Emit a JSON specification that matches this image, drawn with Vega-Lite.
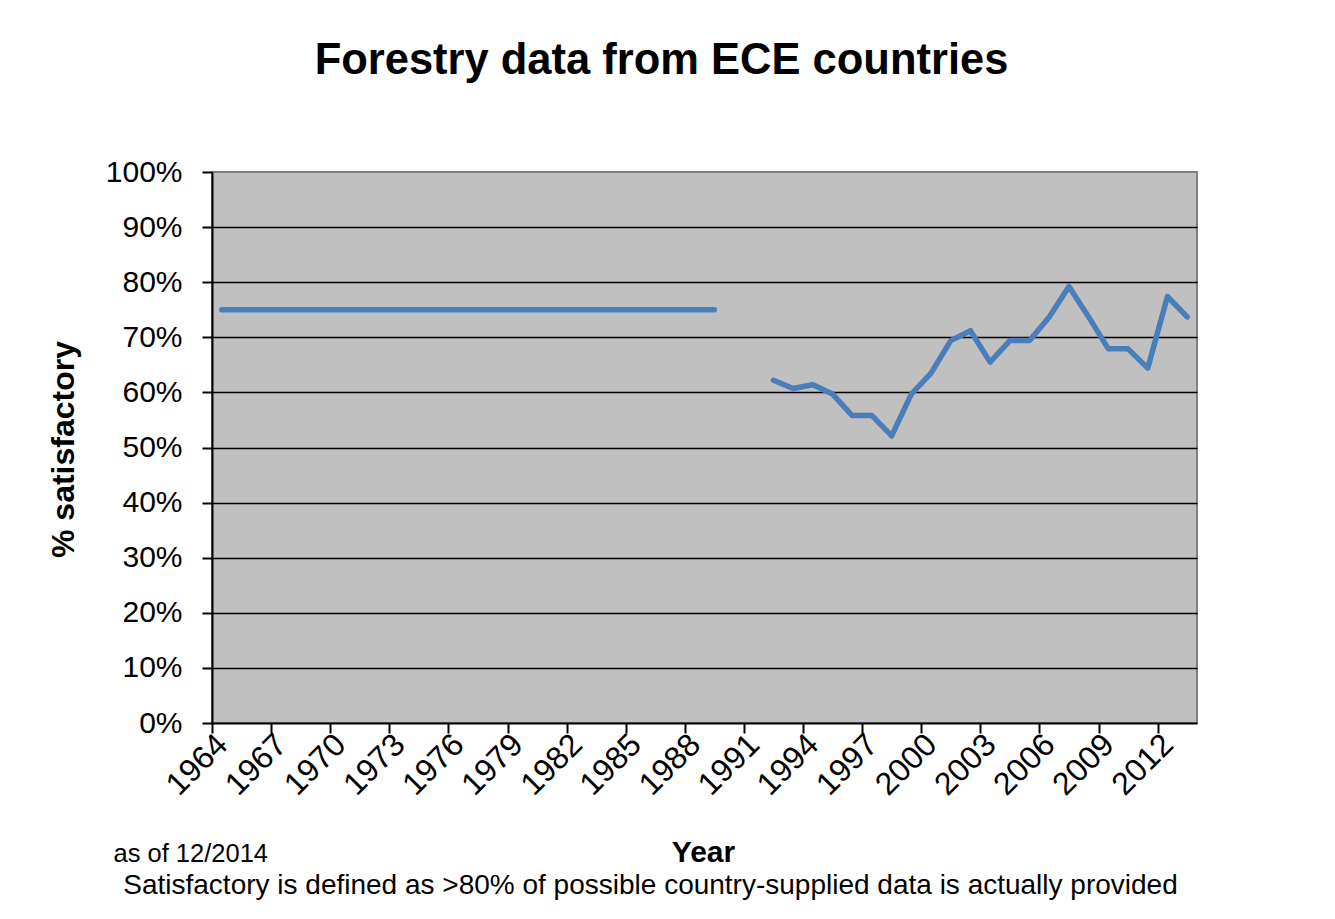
{
  "$schema": "https://vega.github.io/schema/vega-lite/v6.json",
  "autosize": {"type": "none"},
  "padding": {"left": 212, "top": 172, "right": 138, "bottom": 196},
  "width": 985,
  "height": 551,
  "background": "white",
  "config": {
    "font": "Liberation Sans",
    "view": {"fill": "#c0c0c0", "stroke": "#808080", "strokeWidth": 2}
  },
  "title": {
    "text": "Forestry data from ECE countries",
    "fontSize": 43.5,
    "fontWeight": "bold",
    "color": "black",
    "anchor": "middle",
    "dx": -43,
    "offset": 40,
    "baseline": "alphabetic"
  },
  "data": {
    "values": [
      {"year": 1964, "value": 0.75, "period": 1},
      {"year": 1965, "value": 0.75, "period": 1},
      {"year": 1966, "value": 0.75, "period": 1},
      {"year": 1967, "value": 0.75, "period": 1},
      {"year": 1968, "value": 0.75, "period": 1},
      {"year": 1969, "value": 0.75, "period": 1},
      {"year": 1970, "value": 0.75, "period": 1},
      {"year": 1971, "value": 0.75, "period": 1},
      {"year": 1972, "value": 0.75, "period": 1},
      {"year": 1973, "value": 0.75, "period": 1},
      {"year": 1974, "value": 0.75, "period": 1},
      {"year": 1975, "value": 0.75, "period": 1},
      {"year": 1976, "value": 0.75, "period": 1},
      {"year": 1977, "value": 0.75, "period": 1},
      {"year": 1978, "value": 0.75, "period": 1},
      {"year": 1979, "value": 0.75, "period": 1},
      {"year": 1980, "value": 0.75, "period": 1},
      {"year": 1981, "value": 0.75, "period": 1},
      {"year": 1982, "value": 0.75, "period": 1},
      {"year": 1983, "value": 0.75, "period": 1},
      {"year": 1984, "value": 0.75, "period": 1},
      {"year": 1985, "value": 0.75, "period": 1},
      {"year": 1986, "value": 0.75, "period": 1},
      {"year": 1987, "value": 0.75, "period": 1},
      {"year": 1988, "value": 0.75, "period": 1},
      {"year": 1989, "value": 0.75, "period": 1},
      {"year": 1992, "value": 0.622, "period": 2},
      {"year": 1993, "value": 0.607, "period": 2},
      {"year": 1994, "value": 0.614, "period": 2},
      {"year": 1995, "value": 0.597, "period": 2},
      {"year": 1996, "value": 0.558, "period": 2},
      {"year": 1997, "value": 0.558, "period": 2},
      {"year": 1998, "value": 0.521, "period": 2},
      {"year": 1999, "value": 0.597, "period": 2},
      {"year": 2000, "value": 0.635, "period": 2},
      {"year": 2001, "value": 0.694, "period": 2},
      {"year": 2002, "value": 0.712, "period": 2},
      {"year": 2003, "value": 0.655, "period": 2},
      {"year": 2004, "value": 0.694, "period": 2},
      {"year": 2005, "value": 0.694, "period": 2},
      {"year": 2006, "value": 0.737, "period": 2},
      {"year": 2007, "value": 0.792, "period": 2},
      {"year": 2008, "value": 0.737, "period": 2},
      {"year": 2009, "value": 0.679, "period": 2},
      {"year": 2010, "value": 0.679, "period": 2},
      {"year": 2011, "value": 0.644, "period": 2},
      {"year": 2012, "value": 0.774, "period": 2},
      {"year": 2013, "value": 0.737, "period": 2}
    ]
  },
  "resolve": {"axis": {"x": "independent", "y": "independent"}},
  "layer": [
    {
      "transform": [{"filter": "datum.period == 1"}],
      "mark": {"type": "line", "color": "#4a7ebb", "strokeWidth": 5.5, "strokeCap": "round", "strokeJoin": "round"},
      "encoding": {
        "x": {
          "field": "year",
          "type": "quantitative",
          "scale": {"domain": [1963.5, 2013.5], "nice": false, "zero": false},
          "axis": {
            "values": [1964, 1967, 1970, 1973, 1976, 1979, 1982, 1985, 1988, 1991, 1994, 1997, 2000, 2003, 2006, 2009, 2012],
            "format": "d",
            "grid": false,
            "ticks": false,
            "domain": true,
            "domainColor": "black",
            "domainWidth": 2,
            "labelAngle": -45,
            "labelAlign": "right",
            "labelBaseline": "middle",
            "labelPadding": 16,
            "labelFontSize": 32,
            "labelColor": "black",
            "labelOverlap": false,
            "labelFlush": false,
            "title": "Year",
            "titleFontSize": 30,
            "titleFontWeight": "bold",
            "titleColor": "black",
            "titleX": 491,
            "titleY": 138,
            "titleAlign": "center",
            "titleBaseline": "alphabetic"
          }
        },
        "y": {
          "field": "value",
          "type": "quantitative",
          "scale": {"domain": [0, 1], "nice": false},
          "axis": {
            "values": [0, 0.1, 0.2, 0.3, 0.4, 0.5, 0.6, 0.7, 0.8, 0.9, 1.0],
            "format": ".0%",
            "grid": false,
            "domain": true,
            "domainColor": "black",
            "domainWidth": 2,
            "ticks": true,
            "tickColor": "black",
            "tickWidth": 2,
            "tickSize": 10,
            "labelPadding": 20,
            "labelFontSize": 30,
            "labelColor": "black",
            "labelFlush": false,
            "labelOverlap": false,
            "title": "% satisfactory",
            "titleFontSize": 32,
            "titleFontWeight": "bold",
            "titleColor": "black",
            "titleAngle": -90,
            "titleX": -139,
            "titleY": 277,
            "titleAlign": "center",
            "titleBaseline": "alphabetic"
          }
        }
      }
    },
    {
      "transform": [{"filter": "datum.period == 2"}],
      "mark": {"type": "line", "color": "#4a7ebb", "strokeWidth": 5.5, "strokeCap": "round", "strokeJoin": "round"},
      "encoding": {
        "x": {
          "field": "year",
          "type": "quantitative",
          "scale": {"domain": [1963.5, 2013.5], "nice": false, "zero": false},
          "axis": {
            "orient": "bottom",
            "values": [1963.5, 1966.5, 1969.5, 1972.5, 1975.5, 1978.5, 1981.5, 1984.5, 1987.5, 1990.5, 1993.5, 1996.5, 1999.5, 2002.5, 2005.5, 2008.5, 2011.5],
            "grid": false,
            "labels": false,
            "domain": false,
            "ticks": true,
            "tickColor": "black",
            "tickWidth": 2,
            "tickSize": 10,
            "title": "Satisfactory is defined as >80% of possible country-supplied data is actually provided",
            "titleFontSize": 28,
            "titleFontWeight": "normal",
            "titleColor": "black",
            "titleX": 438,
            "titleY": 170,
            "titleAlign": "center",
            "titleBaseline": "alphabetic"
          }
        },
        "y": {
          "field": "value",
          "type": "quantitative",
          "scale": {"domain": [0, 1], "nice": false},
          "axis": {
            "orient": "left",
            "values": [0.1, 0.2, 0.3, 0.4, 0.5, 0.6, 0.7, 0.8, 0.9],
            "grid": true,
            "gridColor": "black",
            "gridWidth": 1.5,
            "gridOpacity": 1,
            "labels": false,
            "ticks": false,
            "domain": false,
            "title": "as of 12/2014",
            "titleFontSize": 25.5,
            "titleFontWeight": "normal",
            "titleColor": "black",
            "titleAngle": 0,
            "titleX": -99,
            "titleY": 689,
            "titleAlign": "left",
            "titleBaseline": "alphabetic"
          }
        }
      }
    }
  ]
}
